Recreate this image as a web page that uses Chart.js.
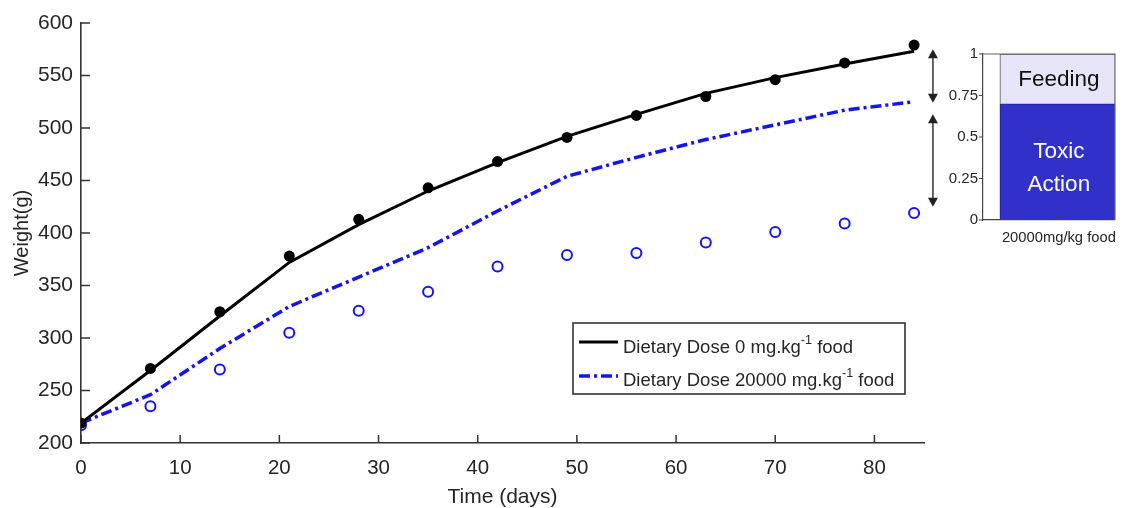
<!DOCTYPE html>
<html><head><meta charset="utf-8">
<script src="https://cdn.jsdelivr.net/npm/chart.js@4/dist/chart.umd.min.js"></script>
<style>
html,body{margin:0;padding:0;background:#fff;}
#wrap{position:relative;width:1127px;height:508px;overflow:hidden;}
#main{position:absolute;left:0;top:0;}
#inset{position:absolute;left:940px;top:30px;}
</style></head><body>
<div id="wrap">
<canvas id="main" width="1127" height="508"></canvas>
<canvas id="inset" width="187" height="230"></canvas>
</div>
<script>
// ---- data ----
const days = [0,7,14,21,28,35,42,49,56,63,70,77,84];
const ctrlObserved = [219,271,325,378,413,443,468,491,512,530,546,562,579];
const ctrlModel    = [219,269,321,372,408,440,467,492,513,533,548,561,573];
const doseModel    = [219,246,290,330,358,386,421,454,472,489,503,517,525];
const doseObserved = [217,235,270,305,326,344,368,379,381,391,401,409,419];
const xTicks = [0,10,20,30,40,50,60,70,80];
const yTicks = [200,250,300,350,400,450,500,550,600];
const legendText = [
  ['Dietary Dose 0 mg.kg','-1',' food'],
  ['Dietary Dose 20000 mg.kg','-1',' food']
];
const arrowSpans = [[575,524],[513,425]];
const insetCategory = ['20000mg/kg food'];
const toxicShare = [0.7];
const feedingShare = [0.3];
const insetTicks = [0,0.25,0.5,0.75,1];
const insetTickLabels = ['0','0.25','0.5','0.75','1'];
const insetSegmentLabels = [['Feeding'],['Toxic','Action']];

const FONT = '"Liberation Sans", Arial, Helvetica, sans-serif';
const TXT = '#262626';
const pair = (xs, ys) => xs.map((x,i)=>({x:x, y:ys[i]}));

// ---- plugins ----
const inTicks = {
  id:'inTicks',
  afterDraw(chart, args, o){
    const c = chart.ctx, xs = chart.scales.x, ys = chart.scales.y, a = chart.chartArea;
    c.save(); c.strokeStyle = o.color; c.lineWidth = o.width;
    c.beginPath();
    (o.xVals||[]).forEach(v=>{ const p = xs.getPixelForValue(v); c.moveTo(p, a.bottom); c.lineTo(p, a.bottom + o.xLen); });
    (o.yVals||[]).forEach(v=>{ const p = ys.getPixelForValue(v); c.moveTo(a.left, p); c.lineTo(a.left + o.yLen, p); });
    c.stroke(); c.restore();
  }
};
const arrows = {
  id:'arrows',
  afterDraw(chart, args, o){
    if(!o.spans) return;
    const c = chart.ctx, xs = chart.scales.x, ys = chart.scales.y;
    const px = xs.getPixelForValue(o.x);
    c.save(); c.strokeStyle = '#222'; c.fillStyle = '#222'; c.lineWidth = 1.4;
    o.spans.forEach(([a,b])=>{
      const y1 = ys.getPixelForValue(a), y2 = ys.getPixelForValue(b);
      const h = 9, w = 5;
      c.beginPath(); c.moveTo(px, y1 + h - 1); c.lineTo(px, y2 - h + 1); c.stroke();
      c.beginPath(); c.moveTo(px, y1); c.lineTo(px - w, y1 + h); c.lineTo(px + w, y1 + h); c.closePath(); c.fill();
      c.beginPath(); c.moveTo(px, y2); c.lineTo(px - w, y2 - h); c.lineTo(px + w, y2 - h); c.closePath(); c.fill();
    });
    c.restore();
  }
};
const mLegend = {
  id:'mLegend',
  afterDraw(chart, args, o){
    if(!o.rows) return;
    const c = chart.ctx;
    c.save();
    c.fillStyle = '#fff'; c.fillRect(o.box[0], o.box[1], o.box[2], o.box[3]);
    c.strokeStyle = '#333'; c.lineWidth = 1.6;
    c.strokeRect(o.box[0], o.box[1], o.box[2], o.box[3]);
    o.rows.forEach((r)=>{
      const ds = chart.data.datasets[r.ds];
      c.beginPath(); c.setLineDash(ds.borderDash || []);
      c.strokeStyle = ds.borderColor; c.lineWidth = ds.borderWidth;
      c.moveTo(o.lineX[0], r.lineY); c.lineTo(o.lineX[1], r.lineY); c.stroke();
      c.setLineDash([]);
      c.fillStyle = TXT; c.textAlign = 'left'; c.textBaseline = 'alphabetic';
      const parts = legendText[r.text];
      let x = o.textX;
      c.font = o.size + 'px ' + FONT;
      c.fillText(parts[0], x, r.baseY); x += c.measureText(parts[0]).width;
      c.font = o.supSize + 'px ' + FONT;
      c.fillText(parts[1], x, r.baseY - o.supRaise); x += c.measureText(parts[1]).width;
      c.font = o.size + 'px ' + FONT;
      c.fillText(parts[2], x, r.baseY);
    });
    c.restore();
  }
};

new Chart(document.getElementById('main'), {
  type:'line',
  data:{ datasets:[
    { label:'Dose 0 observed', data: pair(days, ctrlObserved), showLine:false,
      pointRadius:5.5, pointBackgroundColor:'#000', pointBorderColor:'#000', pointBorderWidth:0 },
    { label:'Dose 20000 observed', data: pair(days, doseObserved), showLine:false,
      pointRadius:5, pointBackgroundColor:'rgba(0,0,0,0)', pointBorderColor:'#1414ff', pointBorderWidth:2 },
    { label:'Dietary Dose 0 mg.kg-1 food', data: pair(days, ctrlModel), borderColor:'#000', borderWidth:3,
      pointRadius:0, fill:false, tension:0 },
    { label:'Dietary Dose 20000 mg.kg-1 food', data: pair(days, doseModel), borderColor:'#1414f0', borderWidth:3.5,
      borderDash:[11,4,3,4], pointRadius:0, fill:false, tension:0 }
  ]},
  plugins:[inTicks, arrows, mLegend],
  options:{
    responsive:false, animation:false, devicePixelRatio:1,
    layout:{padding:{left:0, top:23, right:203, bottom:0}},
    plugins:{
      legend:{display:false}, tooltip:{enabled:false},
      inTicks:{color:'#333', width:1.5, xVals:xTicks, yVals:yTicks, xLen:-8, yLen:9},
      arrows:{x:85.9, spans:arrowSpans},
      mLegend:{box:[573,323,332,71], lineX:[579,618], textX:623, size:18.5, supSize:12.5, supRaise:9,
        rows:[{ds:2, text:0, lineY:342, baseY:353},{ds:3, text:1, lineY:376, baseY:386}]}
    },
    scales:{
      x:{ type:'linear', min:0, max:85,
        afterBuildTicks: s => { s.ticks = xTicks.map(v=>({value:v})); },
        afterFit: s => { s.height = 65; },
        grid:{display:true, drawOnChartArea:false, drawTicks:false},
        border:{display:true, color:'#333', width:1.6},
        ticks:{font:{family:FONT, size:20.5}, color:TXT, padding:13, maxRotation:0, autoSkip:false},
        title:{display:true, text:'Time (days)', color:TXT, font:{family:FONT, size:21, lineHeight:1}, padding:{top:0,bottom:0}}
      },
      y:{ type:'linear', min:200, max:600,
        afterBuildTicks: s => { s.ticks = yTicks.map(v=>({value:v})); },
        afterFit: s => { s.width = 81; },
        grid:{display:true, drawOnChartArea:false, drawTicks:false},
        border:{display:true, color:'#333', width:1.6},
        ticks:{font:{family:FONT, size:21}, color:TXT, padding:8},
        title:{display:true, text:'Weight(g)', color:TXT, font:{family:FONT, size:20, lineHeight:1}, padding:{top:12,bottom:0}}
      }
    }
  }
});

// ---- inset ----
const insetDeco = {
  id:'insetDeco',
  afterDraw(chart, args, o){
    const c = chart.ctx, a = chart.chartArea, xs = chart.scales.x, ys = chart.scales.y;
    c.save();
    c.strokeStyle = '#666'; c.lineWidth = 1.2;
    c.beginPath(); c.moveTo(a.left, a.top); c.lineTo(a.right, a.top); c.lineTo(a.right, a.bottom); c.stroke();
    c.strokeStyle = '#444'; c.lineWidth = 1.2; c.beginPath();
    insetTicks.forEach(v=>{ const p = ys.getPixelForValue(v); c.moveTo(a.left, p); c.lineTo(a.left - 4, p); });
    const bx = xs.getPixelForValue(1); c.moveTo(bx, a.bottom); c.lineTo(bx, a.bottom - 4);
    c.stroke();
    c.textAlign = 'center'; c.textBaseline = 'middle';
    c.font = o.size + 'px ' + FONT;
    c.fillStyle = '#111';
    insetSegmentLabels[0].forEach((t,i)=> c.fillText(t, bx, ys.getPixelForValue(o.feedY[i])));
    c.fillStyle = '#fff';
    insetSegmentLabels[1].forEach((t,i)=> c.fillText(t, bx, ys.getPixelForValue(o.toxY[i])));
    c.restore();
  }
};
new Chart(document.getElementById('inset'), {
  type:'bar',
  data:{ datasets:[
    { label:'Toxic Action', data:[{x:1, y:toxicShare[0]}], backgroundColor:'#3131c9', borderColor:'#22227a', borderWidth:1, barThickness:118, stack:'s' },
    { label:'Feeding', data:[{x:1, y:feedingShare[0]}], backgroundColor:'#e5e5f7', borderColor:'#555', borderWidth:1, barThickness:118, stack:'s' }
  ]},
  plugins:[insetDeco],
  options:{
    responsive:false, animation:false, devicePixelRatio:1,
    layout:{padding:{left:0, top:24, right:5, bottom:0}},
    plugins:{ legend:{display:false}, tooltip:{enabled:false},
      insetDeco:{size:22.5, feedY:[0.845], toxY:[0.41, 0.215]} },
    scales:{
      x:{ type:'linear', min:0.31, max:1.51, stacked:true, offset:false,
        afterBuildTicks: s => { s.ticks = [{value:1}]; },
        afterFit: s => { s.height = 40; },
        grid:{display:true, drawOnChartArea:false, drawTicks:false},
        border:{display:true, color:'#444', width:1.2},
        ticks:{callback:()=>insetCategory[0], font:{family:FONT, size:14.75}, color:TXT, padding:9, maxRotation:0, autoSkip:false}
      },
      y:{ type:'linear', min:0, max:1, stacked:true,
        afterBuildTicks: s => { s.ticks = insetTicks.map(v=>({value:v})); },
        afterFit: s => { s.width = 43; },
        grid:{display:true, drawOnChartArea:false, drawTicks:false},
        border:{display:true, color:'#444', width:1.2},
        ticks:{callback:(v,i)=>insetTickLabels[i], font:{family:FONT, size:15}, color:TXT, padding:5}
      }
    }
  }
});
</script>
</body></html>
